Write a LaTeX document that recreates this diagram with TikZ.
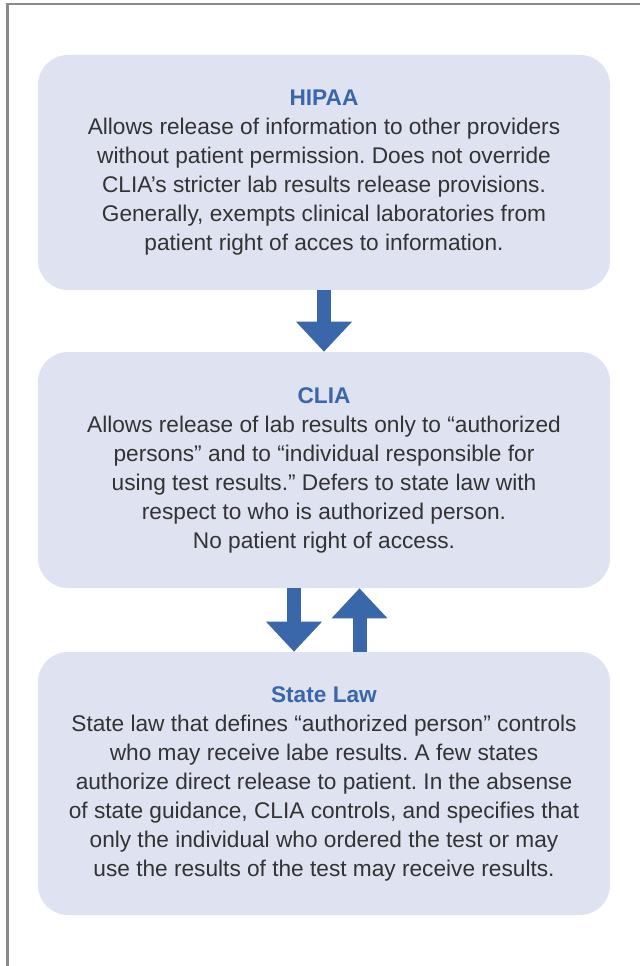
\documentclass[tikz,border=0pt]{standalone}
\usepackage{fontspec}
\setmainfont{Liberation Sans}
\usepackage{xcolor}
\usetikzlibrary{arrows.meta,calc}
\definecolor{boxfill}{HTML}{DFE2F1}
\definecolor{ruleblue}{HTML}{3A67AA}
\definecolor{bodytext}{HTML}{333333}
\definecolor{framegray}{HTML}{8A8A8A}
\tikzset{
  lawbox/.style = {fill=boxfill, rounded corners=22.5pt, align=center,
                   minimum width=429pt, inner sep=0pt, text=bodytext,
                   font=\fontsize{17}{21.75}\selectfont},
  bigarrow/.style = {-{Triangle[length=22.5pt 0 0, width=40.5pt 0 0]},
                   line width=10.5pt, draw=ruleblue},
  frame/.style  = {line width=1.9pt, draw=framegray}
}
\newcommand{\lawtitle}[1]{\textcolor{ruleblue}{\textbf{#1}}}
\frenchspacing

\begin{document}
\begin{tikzpicture}[x=0.75pt, y=-0.75pt]
\useasboundingbox (0,0) rectangle (640,966);

% outer frame, open on the right and at the bottom
\draw[frame] (640,4) -- (7.5,4) -- (7.5,966);

% ---------- the three rules ----------
\node[lawbox, minimum height=176.25pt] (hipaa) at (324,172.5)
  {\lawtitle{HIPAA}\\
   Allows release of information to other providers\\
   without patient permission. Does not override\\
   CLIA’s stricter lab results release provisions.\\
   Generally, exempts clinical laboratories from\\
   patient right of acces to information.};

\node[lawbox, minimum height=177pt] (clia) at (324,470)
  {\lawtitle{CLIA}\\
   Allows release of lab results only to “authorized\\
   persons” and to “individual responsible for\\
   using test results.” Defers to state law with\\
   respect to who is authorized person.\\
   No patient right of access.};

\node[lawbox, minimum height=197.25pt] (state) at (324,783.5)
  {\lawtitle{State Law}\\
   State law that defines “authorized person” controls\\
   who may receive labe results. A few states\\
   authorize direct release to patient. In the absense\\
   of state guidance, CLIA controls, and specifies that\\
   only the individual who ordered the test or may\\
   use the results of the test may receive results.};

% ---------- arrows ----------
\draw[bigarrow] (hipaa.south) -- (clia.north);
\draw[bigarrow] ($(clia.south)+(-30,0)$) -- ($(state.north)+(-30,0)$);
\draw[bigarrow] ($(state.north)+(35.5,0)$) -- ($(clia.south)+(35.5,0)$);

\end{tikzpicture}
\end{document}
